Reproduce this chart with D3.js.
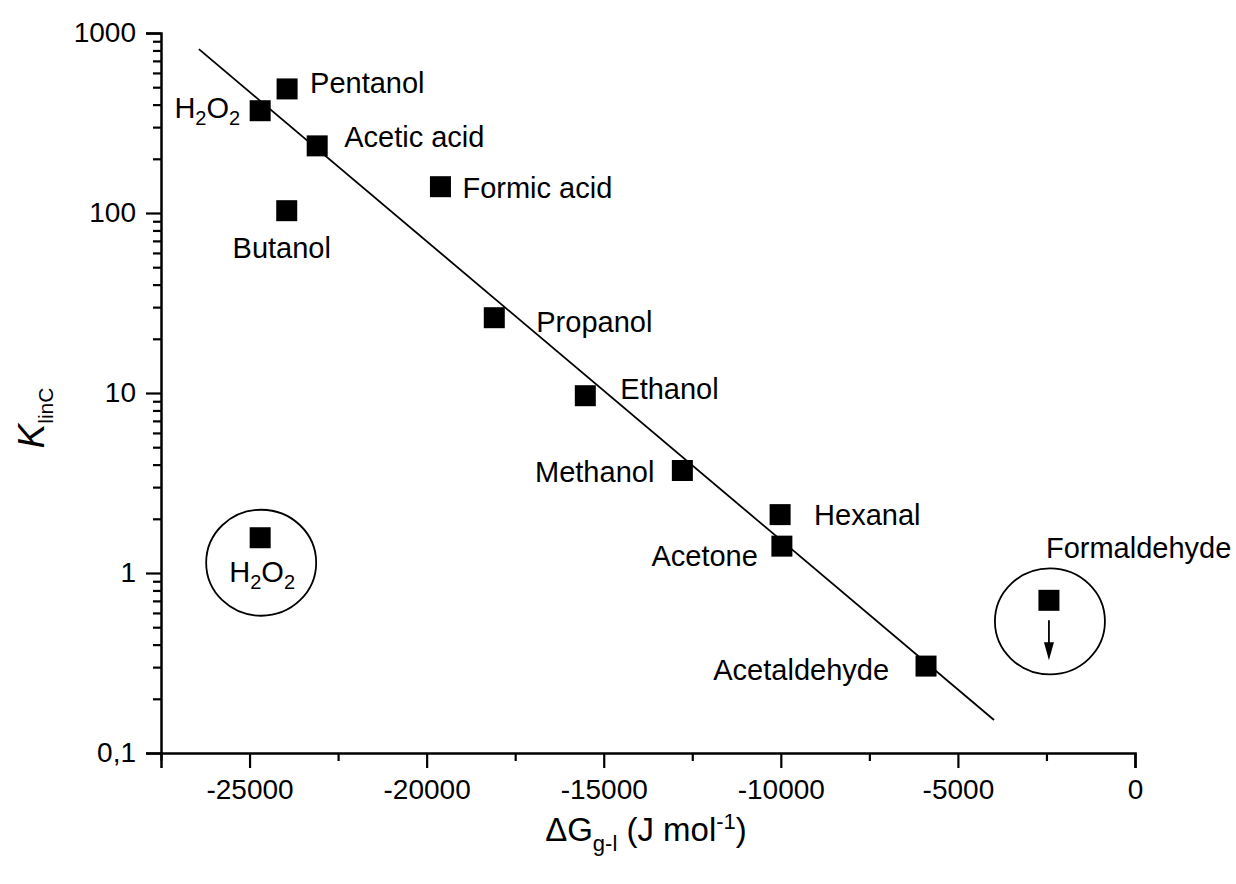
<!DOCTYPE html>
<html>
<head>
<meta charset="utf-8">
<script src="https://cdn.jsdelivr.net/npm/d3@7"></script>
<style>
  html, body { margin: 0; padding: 0; background: #fff; }
  svg { display: block; font-family: "Liberation Sans", Arial, sans-serif; }
</style>
</head>
<body>
<svg id="chart" width="1236" height="884"></svg>
<script>
// Partitioning coefficient K_linC against gas-liquid free energy change
const compounds = ["Pentanol", "H2O2", "Acetic acid", "Formic acid", "Butanol", "Propanol",
                   "Ethanol", "Methanol", "Hexanal", "Acetone", "Acetaldehyde"];
const deltaG   = [-23940, -24700, -23090, -19610, -23950, -18090,
                  -15520, -12780, -10020, -9970, -5900];
const kLinC    = [489, 370, 236, 140, 103, 26.2,
                  9.66, 3.71, 2.11, 1.41, 0.304];

// Points set apart (circled) in the figure
const outlierNames  = ["H2O2", "Formaldehyde"];
const outlierDeltaG = [-24700, -2430];
const outlierK      = [1.57, 0.705];

// Linear fit of log10(K) vs deltaG
const fitSlope = -1.660e-4;
const fitIntercept = -1.477;
const fitRange = [-26430, -3980];

// Axis ticks
const xTicksMajor = [-25000, -20000, -15000, -10000, -5000, 0];
const xTicksMinor = [-27500, -22500, -17500, -12500, -7500, -2500];
const yTicksMajor = [0.1, 1, 10, 100, 1000];
const yTickLabels = ["0,1", "1", "10", "100", "1000"];

// Label placement relative to each marker (px)
const labelLayout = {
  "Pentanol":     { dx: 23,  dy: -6,  anchor: "start" },
  "H2O2":         { dx: -20, dy: -3,  anchor: "end" },
  "Acetic acid":  { dx: 27,  dy: -9,  anchor: "start" },
  "Formic acid":  { dx: 22,  dy: 1,   anchor: "start" },
  "Butanol":      { dx: -5,  dy: 37,  anchor: "middle" },
  "Propanol":     { dx: 42,  dy: 4,   anchor: "start" },
  "Ethanol":      { dx: 35,  dy: -7,  anchor: "start" },
  "Methanol":     { dx: -28, dy: 1,   anchor: "end" },
  "Hexanal":      { dx: 34,  dy: 0,   anchor: "start" },
  "Acetone":      { dx: -24, dy: 10,  anchor: "end" },
  "Acetaldehyde": { dx: -37, dy: 4,   anchor: "end" }
};

const svg = d3.select("#chart");
const margin = { left: 161, right: 101, top: 33, bottom: 131 };
const W = 1236, H = 884;

const x = d3.scaleLinear().domain([-27500, 0]).range([margin.left, W - margin.right]);
const y = d3.scaleLog().domain([0.1, 1000]).range([H - margin.bottom, margin.top]);

const FS = 29;      // annotation labels
const TFS = 28;     // tick labels
const ink = "#000";

// --- axes ---
const yMinor = [];
for (let d = 0.1; d < 1000; d *= 10) {
  for (let m = 2; m <= 9; m++) yMinor.push(+(d * m).toPrecision(3));
}

const yAxis = svg.append("g").attr("transform", `translate(${margin.left},0)`);
yAxis.call(d3.axisLeft(y).tickValues(yTicksMajor)
  .tickFormat((d, i) => yTickLabels[i]).tickSize(15).tickPadding(10));
yAxis.append("g").call(d3.axisLeft(y).tickValues(yMinor).tickFormat("").tickSize(8))
  .select(".domain").remove();

const xAxis = svg.append("g").attr("transform", `translate(0,${H - margin.bottom})`);
xAxis.call(d3.axisBottom(x).tickValues(xTicksMajor).tickFormat(d => String(d))
  .tickSize(15).tickPadding(11));
xAxis.append("g").call(d3.axisBottom(x).tickValues(xTicksMinor).tickFormat("").tickSize(8))
  .select(".domain").remove();

svg.selectAll(".domain").attr("stroke", ink).attr("stroke-width", 2.5);
svg.selectAll(".tick line").attr("stroke", ink).attr("stroke-width", 2.2);
svg.selectAll(".tick text").attr("font-size", TFS).attr("fill", ink)
  .attr("font-family", "'Liberation Sans', Arial, sans-serif");

// --- axis titles ---
const xt = svg.append("text")
  .attr("x", 646).attr("y", 841)
  .attr("text-anchor", "middle").attr("font-size", 33).attr("fill", ink);
xt.append("tspan").text("\u0394G");
xt.append("tspan").attr("font-size", 22).attr("dy", 10).text("g-l");
xt.append("tspan").attr("dy", -10).text(" (J mol");
xt.append("tspan").attr("font-size", 22).attr("dy", -12).text("-1");
xt.append("tspan").attr("dy", 12).text(")");

const yt = svg.append("text")
  .attr("transform", "translate(44,418) rotate(-90)")
  .attr("text-anchor", "middle").attr("font-size", 37).attr("fill", ink);
yt.append("tspan").attr("font-style", "italic").text("K");
yt.append("tspan").attr("font-size", 21).attr("dy", 9).text("linC");

// --- fit line ---
const fitPts = fitRange.map(g => [g, Math.pow(10, fitIntercept + fitSlope * g)]);
svg.append("path")
  .attr("d", d3.line().x(d => x(d[0])).y(d => y(d[1]))(fitPts))
  .attr("fill", "none").attr("stroke", ink).attr("stroke-width", 1.8);

// --- markers ---
const S = 21;
const pts = compounds.map((n, i) => ({ name: n, g: deltaG[i], k: kLinC[i] }));
const outs = outlierNames.map((n, i) => ({ name: n, g: outlierDeltaG[i], k: outlierK[i] }));

svg.append("g").selectAll("rect").data(pts.concat(outs)).join("rect")
  .attr("x", d => x(d.g) - S / 2).attr("y", d => y(d.k) - S / 2)
  .attr("width", S).attr("height", S).attr("fill", ink);

// chemical name, with digits written as subscripts
function writeName(sel, name, subSize, shift) {
  const parts = name.match(/[0-9]+|[^0-9]+/g);
  let down = false;
  parts.forEach(p => {
    const isNum = /^[0-9]+$/.test(p);
    const t = sel.append("tspan").text(p);
    if (isNum) { t.attr("font-size", subSize).attr("dy", down ? 0 : shift); down = true; }
    else { if (down) t.attr("dy", -shift); down = false; }
  });
}

pts.forEach(d => {
  const L = labelLayout[d.name];
  const t = svg.append("text")
    .attr("x", x(d.g) + L.dx).attr("y", y(d.k) + L.dy)
    .attr("dominant-baseline", "central")
    .attr("text-anchor", L.anchor).attr("font-size", FS).attr("fill", ink);
  writeName(t, d.name, 20, 10);
});

// --- circled points ---
const circ = [{ d: outs[0], dy: 25 }, { d: outs[1], dy: 21 }];
circ.forEach(c => {
  svg.append("ellipse")
    .attr("cx", x(c.d.g) + 1).attr("cy", y(c.d.k) + c.dy)
    .attr("rx", 55).attr("ry", 53)
    .attr("fill", "none").attr("stroke", ink).attr("stroke-width", 1.8);
});

// H2O2 inside its circle
const h = svg.append("text")
  .attr("x", x(outs[0].g) + 2).attr("y", y(outs[0].k) + 34)
  .attr("dominant-baseline", "central")
  .attr("text-anchor", "middle").attr("font-size", FS).attr("fill", ink);
writeName(h, "H2O2", 20, 10);

// Formaldehyde: upper-limit arrow and label
const fx = x(outs[1].g), fy = y(outs[1].k);
svg.append("line").attr("x1", fx).attr("x2", fx).attr("y1", fy + 20).attr("y2", fy + 46)
  .attr("stroke", ink).attr("stroke-width", 1.8);
svg.append("path")
  .attr("d", `M${fx - 5},${fy + 42} L${fx + 5},${fy + 42} L${fx},${fy + 60} Z`)
  .attr("fill", ink);
svg.append("text")
  .attr("x", fx - 3).attr("y", fy - 52)
  .attr("dominant-baseline", "central")
  .attr("text-anchor", "start").attr("font-size", FS).attr("fill", ink)
  .text("Formaldehyde");
</script>
</body>
</html>
